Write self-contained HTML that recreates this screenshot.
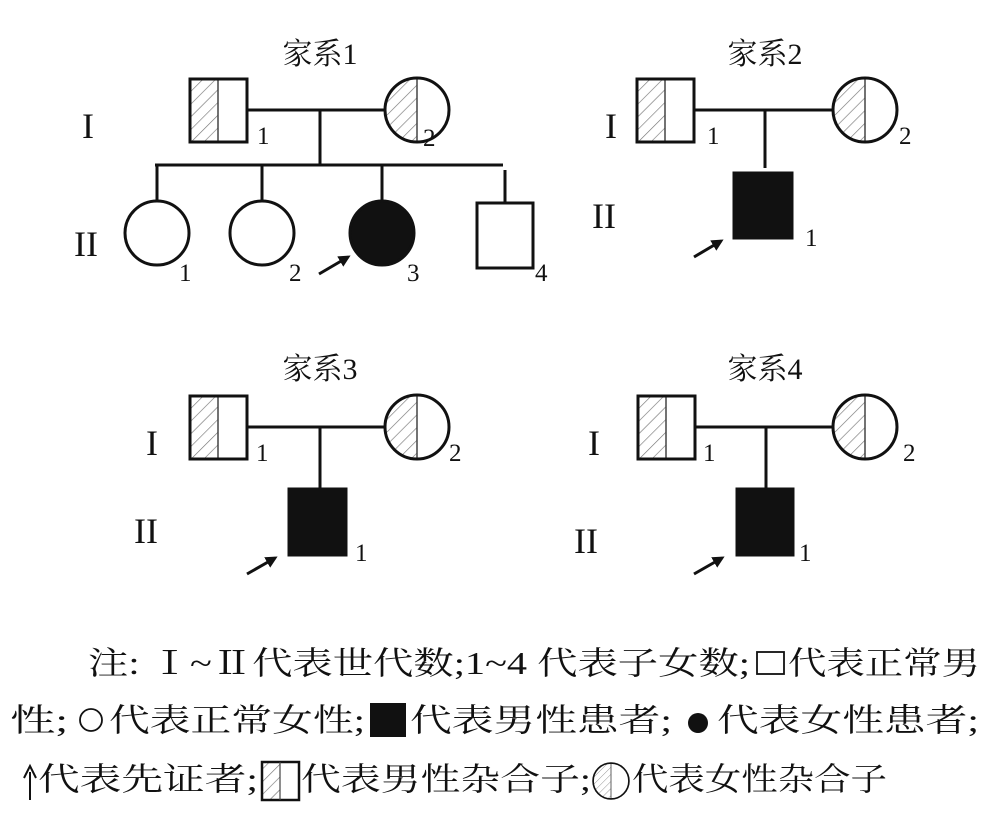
<!DOCTYPE html>
<html><head><meta charset="utf-8"><style>
html,body{margin:0;padding:0;background:#fff}
svg{display:block}
text{font-family:"Liberation Serif","Noto Serif CJK SC",serif;fill:#111}
</style></head><body>
<svg width="993" height="813" viewBox="0 0 993 813" xmlns="http://www.w3.org/2000/svg">
<defs>
<pattern id="h" width="9" height="9" patternUnits="userSpaceOnUse" patternTransform="rotate(45)">
<line x1="0" y1="0" x2="0" y2="9" stroke="#777" stroke-width="1.3"/>
</pattern>
<g id="hm">
<rect x="0" y="0" width="28" height="63" fill="url(#h)"/>
<line x1="28" y1="0" x2="28" y2="63" stroke="#444" stroke-width="1.5"/>
<rect x="0" y="0" width="57" height="63" fill="none" stroke="#111" stroke-width="3"/>
</g>
<clipPath id="lh"><rect x="-40" y="-40" width="40" height="80"/></clipPath>
<g id="hf">
<circle r="32" fill="url(#h)" clip-path="url(#lh)"/>
<line x1="0" y1="-32" x2="0" y2="32" stroke="#444" stroke-width="1.5"/>
<circle r="32" fill="none" stroke="#111" stroke-width="3"/>
</g>
<marker id="ar" markerWidth="12" markerHeight="12" refX="9" refY="6" orient="auto" markerUnits="userSpaceOnUse">
<path d="M0,0 L12,6 L0,12 z" fill="#111"/>
</marker>
</defs>
<g stroke="#111" stroke-width="3" fill="none">
<line x1="247" y1="110" x2="385" y2="110"/>
<line x1="320" y1="110" x2="320" y2="165"/>
<line x1="155" y1="165" x2="503" y2="165"/>
<line x1="157" y1="165" x2="157" y2="202"/>
<line x1="262" y1="165" x2="262" y2="202"/>
<line x1="382" y1="165" x2="382" y2="202"/>
<line x1="505" y1="170" x2="505" y2="203"/>
<circle cx="157" cy="233" r="32"/>
<circle cx="262" cy="233" r="32"/>
<circle cx="382" cy="233" r="32" fill="#111"/>
<rect x="477" y="203" width="56" height="65"/>
<line x1="319" y1="274" x2="348" y2="257" stroke-width="3" marker-end="url(#ar)"/>
<line x1="695" y1="110" x2="832" y2="110"/>
<line x1="765" y1="110" x2="765" y2="168"/>
<rect x="734" y="173" width="58" height="65" fill="#111"/>
<line x1="694" y1="257" x2="721" y2="241" stroke-width="3" marker-end="url(#ar)"/>
<line x1="247" y1="427" x2="385" y2="427"/>
<line x1="320" y1="427" x2="320" y2="488"/>
<rect x="289" y="489" width="57" height="66" fill="#111"/>
<line x1="247" y1="574" x2="275" y2="558" stroke-width="3" marker-end="url(#ar)"/>
<line x1="695" y1="427" x2="832" y2="427"/>
<line x1="766" y1="427" x2="766" y2="488"/>
<rect x="737" y="489" width="56" height="66" fill="#111"/>
<line x1="694" y1="574" x2="722" y2="558" stroke-width="3" marker-end="url(#ar)"/>
</g>
<use href="#hm" x="190" y="79"/>
<use href="#hf" x="417" y="110"/>
<use href="#hm" x="637" y="79"/>
<use href="#hf" x="865" y="110"/>
<use href="#hm" x="190" y="396"/>
<use href="#hf" x="417" y="427"/>
<use href="#hm" x="638" y="396"/>
<use href="#hf" x="865" y="427"/>

<g font-size="30" text-anchor="middle">
<text x="320" y="64">家系1</text>
<text x="765" y="64">家系2</text>
<text x="320" y="379">家系3</text>
<text x="765" y="379">家系4</text>
</g>
<g font-size="36">
<text x="82" y="138">I</text>
<text x="74" y="256">II</text>
<text x="605" y="138">I</text>
<text x="592" y="228">II</text>
<text x="146" y="455">I</text>
<text x="134" y="543">II</text>
<text x="588" y="455">I</text>
<text x="574" y="553">II</text>
</g>
<g font-size="25">
<text x="257" y="144">1</text>
<text x="423" y="146">2</text>
<text x="179" y="281">1</text>
<text x="289" y="281">2</text>
<text x="407" y="281">3</text>
<text x="535" y="281">4</text>
<text x="707" y="144">1</text>
<text x="899" y="144">2</text>
<text x="805" y="246">1</text>
<text x="256" y="461">1</text>
<text x="449" y="461">2</text>
<text x="355" y="561">1</text>
<text x="703" y="461">1</text>
<text x="903" y="461">2</text>
<text x="799" y="561">1</text>
</g>

<g font-size="32">
<text x="88" y="674" textLength="662" lengthAdjust="spacingAndGlyphs">注: Ⅰ~Ⅱ代表世代数;1~4 代表子女数;</text>
<text x="788" y="674" textLength="192" lengthAdjust="spacingAndGlyphs">代表正常男</text>
<text x="10" y="731" textLength="58" lengthAdjust="spacingAndGlyphs">性;</text>
<text x="109" y="731" textLength="256" lengthAdjust="spacingAndGlyphs">代表正常女性;</text>
<text x="410" y="731" textLength="262" lengthAdjust="spacingAndGlyphs">代表男性患者;</text>
<text x="717" y="731" textLength="262" lengthAdjust="spacingAndGlyphs">代表女性患者;</text>
<text x="38" y="790" textLength="220" lengthAdjust="spacingAndGlyphs">代表先证者;</text>
<text x="301" y="790" textLength="290" lengthAdjust="spacingAndGlyphs">代表男性杂合子;</text>
<text x="632" y="790" textLength="255" lengthAdjust="spacingAndGlyphs">代表女性杂合子</text>
</g>
<rect x="757" y="652" width="27" height="22" fill="none" stroke="#111" stroke-width="1.8"/>
<circle cx="91" cy="720" r="11" fill="none" stroke="#111" stroke-width="1.8"/>
<rect x="370" y="703" width="36" height="34" fill="#111"/>
<circle cx="698" cy="723" r="10" fill="#111"/>
<line x1="30" y1="800" x2="30" y2="772" stroke="#111" stroke-width="2"/>
<path d="M24,778 L30,766 L36,778" fill="none" stroke="#111" stroke-width="2"/>
<rect x="262" y="762" width="18" height="38" fill="url(#h)"/>
<rect x="262" y="762" width="37" height="38" fill="none" stroke="#111" stroke-width="2.5"/>
<line x1="280" y1="762" x2="280" y2="800" stroke="#444" stroke-width="1.2"/>
<g transform="translate(611,781) scale(0.56)"><use href="#hf"/></g>
</svg>
</body></html>
